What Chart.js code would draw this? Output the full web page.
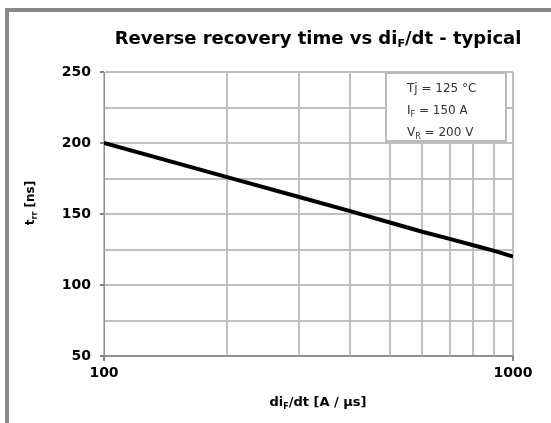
<!DOCTYPE html>
<html>
<head>
<meta charset="utf-8">
<script src="https://cdn.jsdelivr.net/npm/chart.js@4/dist/chart.umd.min.js"></script>
<style>
  html, body { margin: 0; padding: 0; background: #fff; }
  #wrap { width: 551px; height: 423px; position: relative; }
</style>
</head>
<body>
<div id="wrap"><canvas id="c" width="551" height="423"></canvas></div>
<script>
// ---- data ----
const diFdt = [100, 200, 300, 400, 500, 600, 700, 800, 900, 1000];
const trr = [200, 176, 162, 152, 144, 137.5, 132.5, 128, 124, 120];
const xLabelTicks = [100, 1000];
const yLabelTicks = [50, 100, 150, 200, 250];
const titleParts = [["Reverse recovery time vs di", false], ["F", true], ["/dt - typical", false]];
const xTitleParts = [["di", false], ["F", true], ["/dt [A / µs]", false]];
const yTitleParts = [["t", false], ["rr", true], [" [ns]", false]];
const noteLines = [
  [["Tj = 125 °C", false]],
  [["I", false], ["F", true], [" = 150 A", false]],
  [["V", false], ["R", true], [" = 200 V", false]]
];

function drawParts(ctx, parts, x, y, font, subFont, subDy, align) {
  let w = 0;
  parts.forEach(p => { ctx.font = p[1] ? subFont : font; w += ctx.measureText(p[0]).width; });
  let cx = align === 'center' ? x - w / 2 : x;
  ctx.textAlign = 'left';
  ctx.textBaseline = 'alphabetic';
  parts.forEach(p => {
    ctx.font = p[1] ? subFont : font;
    ctx.fillText(p[0], cx, y + (p[1] ? subDy : 0));
    cx += ctx.measureText(p[0]).width;
  });
}

const decor = {
  id: 'decor',
  beforeDraw(chart) {
    const ctx = chart.ctx;
    ctx.save();
    ctx.fillStyle = '#fff';
    ctx.fillRect(0, 0, chart.width, chart.height);
    ctx.fillStyle = '#888';
    ctx.fillRect(5, 8, 546, 4);
    ctx.fillRect(5, 8, 4, 415);
    // title
    ctx.fillStyle = '#000';
    drawParts(ctx, titleParts, 318, 44, 'bold 18px "DejaVu Sans"', 'bold 11px "DejaVu Sans"', 3, 'center');
    // x title
    drawParts(ctx, xTitleParts, 318, 406, 'bold 13px "DejaVu Sans"', 'bold 8px "DejaVu Sans"', 3, 'center');
    // y title
    ctx.translate(34, 203);
    ctx.rotate(-Math.PI / 2);
    drawParts(ctx, yTitleParts, 0, 0, 'bold 12px "DejaVu Sans"', 'bold 8px "DejaVu Sans"', 3, 'center');
    ctx.restore();
  },
  afterDatasetsDraw(chart) {
    const ctx = chart.ctx;
    ctx.save();
    ctx.fillStyle = '#fff';
    ctx.fillRect(386, 73, 120, 68);
    ctx.strokeStyle = '#bbb';
    ctx.lineWidth = 2;
    ctx.strokeRect(386, 73, 120, 68);
    ctx.fillStyle = '#333';
    const ys = [92, 114, 136];
    noteLines.forEach((ln, i) => {
      drawParts(ctx, ln, 407, ys[i], '12px "DejaVu Sans"', '8px "DejaVu Sans"', 3, 'left');
    });
    ctx.restore();
  }
};

new Chart(document.getElementById('c'), {
  type: 'line',
  data: {
    datasets: [{
      data: diFdt.map((x, i) => ({ x: x, y: trr[i] })),
      borderColor: '#000',
      borderWidth: 4,
      pointRadius: 0,
      tension: 0,
      fill: false
    }]
  },
  options: {
    responsive: false,
    animation: false,
    devicePixelRatio: 1,
    layout: { padding: { left: 0, top: 72, right: 38, bottom: 0 } },
    plugins: { legend: { display: false }, title: { display: false }, tooltip: { enabled: false } },
    scales: {
      x: {
        type: 'logarithmic',
        min: 100,
        max: 1000,
        afterFit: s => { s.height = 67; },
        afterBuildTicks: s => { s.ticks = diFdt.map(v => ({ value: v })); },
        ticks: {
          autoSkip: false,
          maxRotation: 0,
          padding: 4,
          color: '#000',
          font: { family: 'DejaVu Sans', size: 14, weight: 'bold' },
          callback: v => xLabelTicks.includes(v) ? String(v) : ''
        },
        grid: {
          color: '#c0c0c0',
          lineWidth: 2,
          tickLength: 5,
          tickWidth: 2,
          tickColor: c => (c.tick && xLabelTicks.includes(c.tick.value)) ? '#808080' : 'rgba(0,0,0,0)'
        },
        border: { color: '#909090', width: 2 }
      },
      y: {
        type: 'linear',
        min: 50,
        max: 250,
        afterFit: s => { s.width = 104; },
        ticks: {
          stepSize: 25,
          padding: 9,
          color: '#000',
          font: { family: 'DejaVu Sans', size: 14, weight: 'bold' },
          callback: v => yLabelTicks.includes(v) ? String(v) : ''
        },
        grid: {
          color: '#c0c0c0',
          lineWidth: 2,
          tickLength: 4,
          tickWidth: 2,
          tickColor: c => (c.tick && yLabelTicks.includes(c.tick.value)) ? '#808080' : 'rgba(0,0,0,0)'
        },
        border: { color: '#909090', width: 1 }
      }
    }
  },
  plugins: [decor]
});
</script>
</body>
</html>
